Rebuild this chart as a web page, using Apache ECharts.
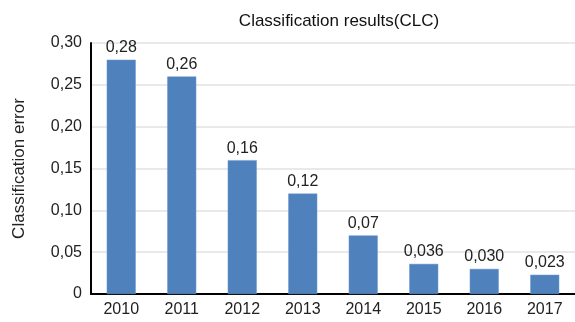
<!DOCTYPE html>
<html>
<head>
<meta charset="utf-8">
<script src="https://cdn.jsdelivr.net/npm/echarts@6/dist/echarts.min.js"></script>
<style>
  html, body { margin: 0; padding: 0; background: #fff; }
  #chart { width: 575px; height: 322px; }
</style>
</head>
<body>
<div id="chart"></div>
<script>
// Yearly classification error on CLC
const years = ['2010', '2011', '2012', '2013', '2014', '2015', '2016', '2017'];
const errors = [0.28, 0.26, 0.16, 0.12, 0.07, 0.036, 0.030, 0.023];
const labelDecimals = [2, 2, 2, 2, 2, 3, 3, 3];

const titleText = 'Classification results(CLC)';
const yAxisName = 'Classification error';

const font = '"Liberation Sans", Arial, sans-serif';
const commaNum = (v, d) => v.toFixed(d).replace('.', ',');

const chart = echarts.init(document.getElementById('chart'));
chart.setOption({
  animation: false,
  title: {
    text: titleText,
    left: 334,
    textAlign: 'center',
    top: 8,
    textStyle: { fontFamily: font, fontSize: 17, fontWeight: 'normal', color: '#111' }
  },
  grid: { left: 91, right: 0, top: 43, bottom: 28 },
  xAxis: {
    type: 'category',
    data: years,
    axisLine: { lineStyle: { color: '#000', width: 2 } },
    axisTick: { show: false },
    axisLabel: { fontFamily: font, fontSize: 16, color: '#222', margin: 8 }
  },
  yAxis: {
    type: 'value',
    min: 0,
    max: 0.30,
    interval: 0.05,
    name: yAxisName,
    nameLocation: 'middle',
    nameGap: 63,
    nameTextStyle: { fontFamily: font, fontSize: 17, color: '#222' },
    axisLine: { show: true, lineStyle: { color: '#000', width: 2 } },
    axisTick: { show: false },
    splitLine: { lineStyle: { color: '#e2e2e2', width: 1.5 } },
    axisLabel: {
      fontFamily: font, fontSize: 16, color: '#222', margin: 9,
      formatter: v => (v === 0 ? '0' : commaNum(v, 2))
    }
  },
  series: [{
    type: 'bar',
    data: errors,
    barWidth: '48%',
    itemStyle: { color: '#4f81bd', borderColor: '#6e9bd0', borderWidth: 0.5 },
    label: {
      show: true,
      position: 'top',
      distance: 4,
      fontFamily: font,
      fontSize: 16,
      color: '#222',
      formatter: p => commaNum(errors[p.dataIndex], labelDecimals[p.dataIndex])
    }
  }]
});
</script>
</body>
</html>
